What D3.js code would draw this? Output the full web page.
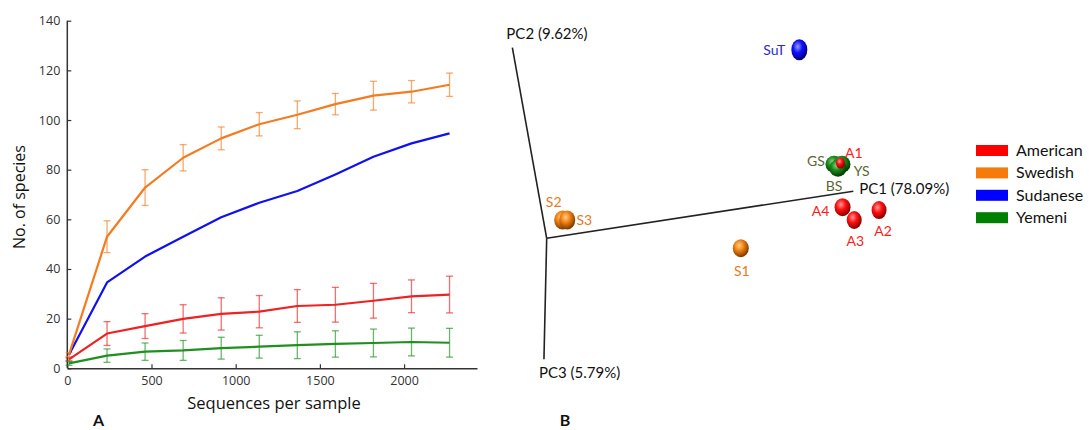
<!DOCTYPE html>
<html><head><meta charset="utf-8">
<script src="https://cdn.jsdelivr.net/npm/d3@7"></script>
<style>
html,body{margin:0;padding:0;background:#fff;}
svg{display:block;}
</style></head>
<body>
<script>
// ---------- Panel A data ----------
const seqDepth = [10, 236, 462, 688, 914, 1140, 1366, 1592, 1818, 2044, 2270];
const xTicks = [0, 500, 1000, 1500, 2000];
const yTicks = [0, 20, 40, 60, 80, 100, 120, 140];
const swedishMean = [5.5, 53.0, 72.8, 84.8, 92.6, 98.3, 102.1, 106.4, 109.8, 111.4, 114.2];
const swedishErr  = [0.8, 6.4, 7.2, 5.3, 4.6, 4.7, 5.6, 4.3, 5.8, 4.5, 4.7];
const sudaneseMean = [5.5, 34.6, 45.0, 53.0, 60.8, 66.7, 71.4, 78.1, 85.2, 90.6, 94.6];
const americanMean = [3.6, 14.0, 17.0, 19.9, 21.9, 22.8, 25.1, 25.6, 27.2, 29.0, 29.7];
const americanErr  = [0.6, 4.8, 5.0, 5.7, 6.5, 6.5, 6.6, 7.0, 7.0, 6.6, 7.4];
const yemeniMean = [2.0, 5.1, 6.7, 7.2, 8.1, 8.7, 9.3, 9.8, 10.2, 10.6, 10.3];
const yemeniErr  = [0.8, 2.7, 3.5, 4.0, 4.4, 4.6, 5.4, 5.3, 5.6, 5.6, 5.8];

// ---------- Panel B data (projected PCoA coordinates) ----------
const sampleNames = ["SuT", "GS", "YS", "BS", "A1", "A4", "A3", "A2", "S2", "S3", "S1"];
const sampleGroup = ["Sudanese", "Yemeni", "Yemeni", "Yemeni", "American", "American", "American", "American", "Swedish", "Swedish", "Swedish"];
const sampleX = [82.4, 93.7, 96.3, 95.0, 95.8, 96.5, 100.3, 108.4, 5.2, 6.7, 63.3];
const sampleY = [98.9, 38.9, 38.9, 36.8, 39.5, 16.3, 9.6, 14.8, 9.6, 9.6, -5.2];
const axisNames = ["PC1 (78.09%)", "PC2 (9.62%)", "PC3 (5.79%)"];
const axisTipX = [100, -11.2, -0.9];
const axisTipY = [24.7, 100, -63.5];
const groups = ["American", "Swedish", "Sudanese", "Yemeni"];
const groupColors = ["#ff0000", "#f57c0a", "#0000ff", "#008000"];

const W = 1089, H = 430;
const svg = d3.select("body").append("svg").attr("width", W).attr("height", H)
  .style("font-family", "'Open Sans', sans-serif");

// ================= Panel A =================
const x = d3.scaleLinear().domain([0, 2433]).range([67.3, 477]);
const y = d3.scaleLinear().domain([0, 140]).range([368.3, 20.7]);
const axisColor = "#333";

const gx = svg.append("g").attr("transform", `translate(0,${y(0)})`)
  .call(d3.axisBottom(x).tickValues(xTicks).tickFormat(d3.format("d")).tickSizeInner(-4).tickSizeOuter(0).tickPadding(8));
const gy = svg.append("g").attr("transform", `translate(${x(0)},0)`)
  .call(d3.axisLeft(y).tickValues(yTicks).tickFormat(d3.format("d")).tickSizeInner(-4).tickSizeOuter(0).tickPadding(7));
[gx, gy].forEach(g => {
  g.select(".domain").attr("stroke", axisColor).attr("stroke-width", 1.5);
  g.selectAll(".tick line").attr("stroke", axisColor).attr("stroke-width", 1.2);
  g.selectAll("text").attr("fill", "#333").style("font-size", "12.5px").style("font-family", "'Open Sans', sans-serif");
});
gy.select(".domain").attr("d", `M0,${y(140)}V${y(0)}`);

const seriesA = [
  {mean: sudaneseMean, err: null, color: "#1010f0"},
  {mean: swedishMean, err: swedishErr, color: "#f47b20"},
  {mean: americanMean, err: americanErr, color: "#ee2222"},
  {mean: yemeniMean, err: yemeniErr, color: "#1f8f1f"},
];
const line = d3.line().x((d, i) => x(seqDepth[i])).y(d => y(d));
const cap = 3.5;
seriesA.forEach(s => {
  if (s.err) {
    const eg = svg.append("g").attr("stroke", s.color).attr("stroke-opacity", 0.65).attr("stroke-width", 1.3);
    s.mean.forEach((m, i) => {
      const cx = x(seqDepth[i]), y1 = y(m + s.err[i]), y2 = y(m - s.err[i]);
      eg.append("line").attr("x1", cx).attr("x2", cx).attr("y1", y1).attr("y2", y2);
      eg.append("line").attr("x1", cx - cap).attr("x2", cx + cap).attr("y1", y1).attr("y2", y1);
      eg.append("line").attr("x1", cx - cap).attr("x2", cx + cap).attr("y1", y2).attr("y2", y2);
    });
  }
});
seriesA.forEach(s => {
  svg.append("path").datum(s.mean).attr("d", line).attr("fill", "none")
    .attr("stroke", s.color).attr("stroke-width", 2.2).attr("stroke-linejoin", "round");
});

svg.append("text").attr("x", 274).attr("y", 409).attr("text-anchor", "middle")
  .style("font-size", "16.5px").attr("fill", "#111").text("Sequences per sample");
svg.append("text").attr("transform", "translate(25,197) rotate(-90)").attr("text-anchor", "middle")
  .style("font-size", "16px").attr("fill", "#111").text("No. of species");
svg.append("text").attr("x", 98.5).attr("y", 426).attr("text-anchor", "middle")
  .style("font-size", "16px").style("font-weight", "bold").style("font-family", "Lato, sans-serif").attr("fill", "#111").text("A");
svg.append("text").attr("x", 565).attr("y", 426).attr("text-anchor", "middle")
  .style("font-size", "16px").style("font-weight", "bold").style("font-family", "Lato, sans-serif").attr("fill", "#111").text("B");

// ================= Panel B =================
const bx = d3.scaleLinear().domain([0, 100]).range([546.7, 853.3]);
const by = d3.scaleLinear().domain([0, 100]).range([238.3, 47.7]);
const bFont = "Lato, 'Open Sans', sans-serif";

const axG = svg.append("g");
axisTipX.forEach((tx, i) => {
  axG.append("line").attr("x1", bx(0)).attr("y1", by(0)).attr("x2", bx(tx)).attr("y2", by(axisTipY[i]))
    .attr("stroke", "#222").attr("stroke-width", 1.6);
});
const axLabelOff = [[6, 3], [-6, -9], [-5, 19]];
axisNames.forEach((t, i) => {
  svg.append("text").attr("x", bx(axisTipX[i]) + axLabelOff[i][0]).attr("y", by(axisTipY[i]) + axLabelOff[i][1])
    .style("font-family", bFont).style("font-size", "15px").attr("fill", "#111").text(t);
});

// sphere gradients
const defs = svg.append("defs");
const sphereCol = {
  American: ["#ff9a9a", "#ff1010", "#8a0000"],
  Swedish: ["#ffd08a", "#f08010", "#7a3a00"],
  Sudanese: ["#9a9aff", "#1010ff", "#00007a"],
  Yemeni: ["#8ad08a", "#1a8a1a", "#003a00"],
};
Object.keys(sphereCol).forEach(k => {
  const g = defs.append("radialGradient").attr("id", "sph-" + k).attr("cx", "40%").attr("cy", "35%").attr("r", "65%");
  g.append("stop").attr("offset", "0%").attr("stop-color", sphereCol[k][0]);
  g.append("stop").attr("offset", "45%").attr("stop-color", sphereCol[k][1]);
  g.append("stop").attr("offset", "100%").attr("stop-color", sphereCol[k][2]);
});
const sphereR = {SuT: [8, 10.5], GS: [8.5, 8.5], BS: [8.5, 8.5], YS: [8.5, 8.5], A1: [4.5, 5.5], A4: [8, 9], A3: [7.5, 9], A2: [7.5, 9], S2: [8.5, 9.5], S3: [8, 9.5], S1: [8, 9]};
sampleNames.forEach((n, i) => {
  const r = sphereR[n];
  svg.append("ellipse").attr("cx", bx(sampleX[i])).attr("cy", by(sampleY[i]))
    .attr("rx", r[0]).attr("ry", r[1]).attr("fill", `url(#sph-${sampleGroup[i]})`);
});

const labelColor = {American: "#ff1a1a", Swedish: "#e8791e", Sudanese: "#2a2ad0", Yemeni: "#5a6632"};
const labelOff = {SuT: [-14, 5, "end"], GS: [-18, 2, "middle"], BS: [-4, 22.7, "middle"], YS: [19.7, 11.7, "middle"], A1: [13.3, -5.3, "middle"],
  A4: [-22, 9, "middle"], A3: [1, 26, "middle"], A2: [4, 26, "middle"], S2: [-9, -13, "middle"], S3: [17, 5, "middle"], S1: [1, 28, "middle"]};
sampleNames.forEach((n, i) => {
  const o = labelOff[n];
  svg.append("text").attr("x", bx(sampleX[i]) + o[0]).attr("y", by(sampleY[i]) + o[1]).attr("text-anchor", o[2])
    .style("font-family", bFont).style("font-size", "14px").attr("fill", labelColor[sampleGroup[i]]).text(n);
});

// legend
const lg = svg.append("g").attr("transform", "translate(976,145)");
groups.forEach((g, i) => {
  lg.append("rect").attr("x", 0).attr("y", i * 22.4).attr("width", 32).attr("height", 11).attr("fill", groupColors[i]);
  lg.append("text").attr("x", 40).attr("y", i * 22.4 + 11).style("font-family", bFont).style("font-size", "16px")
    .attr("fill", "#111").text(g);
});
</script>
</body></html>
